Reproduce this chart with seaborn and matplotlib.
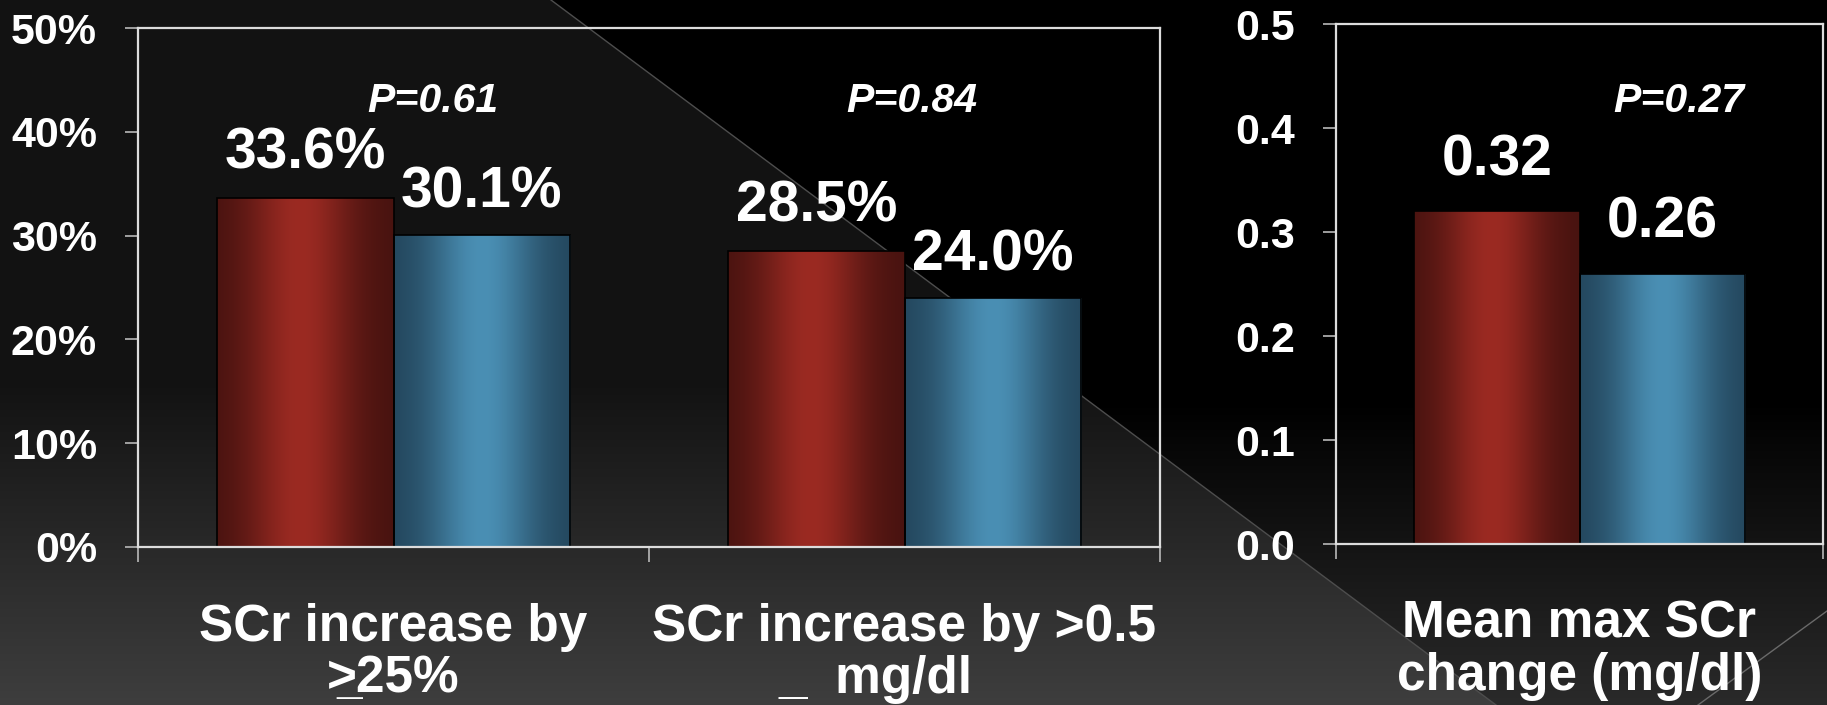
import numpy as np
import pandas as pd
import matplotlib
matplotlib.use("Agg")
import matplotlib.pyplot as plt
import seaborn as sns
from matplotlib.colors import to_rgb
from matplotlib.lines import Line2D

# ---- data -------------------------------------------------------------
categories = ["SCr increase by\n>25%", "SCr increase by >0.5\n_  mg/dl    "]
groups = ["Group A", "Group B"]
pct_group_a = [33.6, 28.5]
pct_group_b = [30.1, 24.0]
p_values_left = ["P=0.61", "P=0.84"]

mean_category = ["Mean max SCr\nchange (mg/dl)"]
mean_group_a = [0.32]
mean_group_b = [0.26]
p_values_right = ["P=0.27"]

left_ticks = [0, 10, 20, 30, 40, 50]
left_ticklabels = ["0%", "10%", "20%", "30%", "40%", "50%"]
right_ticks = [0.0, 0.1, 0.2, 0.3, 0.4, 0.5]
right_ticklabels = ["0.0", "0.1", "0.2", "0.3", "0.4", "0.5"]

# ---- style ------------------------------------------------------------
plt.rcParams["font.family"] = ["Liberation Sans", "DejaVu Sans"]
RED_DARK, RED_BRIGHT = "#45120f", "#9b2a22"
BLUE_DARK, BLUE_BRIGHT = "#22445a", "#4a8fb4"
SPINE = "#dcdcdc"
TICK = "#b8b8b8"

W, H = 1827, 705
fig = plt.figure(figsize=(W / 100, H / 100), dpi=100)

# ---- slide background: two shaded panels split by a diagonal ---------
bg = fig.add_axes([0, 0, 1, 1], zorder=-10)
yy, xx = np.mgrid[0:H, 0:W].astype(float)
x0, slope = 551.0, 705.0 / (1496.0 - 551.0)
lower_left = yy > slope * (xx - x0)
grey_panel = np.where(yy < 380, 18, 18 + 44 * (yy - 380) / 325)
dark_panel = np.clip((yy - 400) / 305, 0, 1) * 42
shade_val = np.where(lower_left, grey_panel, dark_panel) / 255.0
bg.imshow(np.dstack([shade_val] * 3), extent=[0, W, H, 0], aspect="auto",
          interpolation="bilinear")
bg.add_line(Line2D([x0, 1496], [0, H], color="#4d4d4d", lw=1.0))
bg.add_line(Line2D([W, 1698], [611, H], color="#6a6a6a", lw=1.0))
bg.set_xlim(0, W)
bg.set_ylim(H, 0)
bg.axis("off")

# ---- chart axes -------------------------------------------------------
ax1 = fig.add_axes([138 / W, 1 - 547 / H, 1022 / W, 519 / H])
ax2 = fig.add_axes([1336 / W, 1 - 544 / H, 487 / W, 520 / H])

df_left = pd.DataFrame({
    "category": categories * 2,
    "group": [groups[0]] * len(categories) + [groups[1]] * len(categories),
    "value": pct_group_a + pct_group_b,
})
df_right = pd.DataFrame({
    "category": mean_category * 2,
    "group": [groups[0]] * len(mean_category) + [groups[1]] * len(mean_category),
    "value": mean_group_a + mean_group_b,
})

sns.barplot(data=df_left, x="category", y="value", hue="group",
            order=categories, hue_order=groups,
            palette=[RED_BRIGHT, BLUE_BRIGHT], width=0.69,
            edgecolor="black", linewidth=1.2, errorbar=None,
            legend=False, ax=ax1)
sns.barplot(data=df_right, x="category", y="value", hue="group",
            order=mean_category, hue_order=groups,
            palette=[RED_BRIGHT, BLUE_BRIGHT], width=0.68,
            edgecolor="black", linewidth=1.2, errorbar=None,
            legend=False, ax=ax2)


def cylinder_shade(ax, container, dark, bright, peak):
    """Paint each bar with a horizontal light-dark gradient (cylinder look)."""
    d, b = np.array(to_rgb(dark)), np.array(to_rgb(bright))
    t = np.linspace(0, 1, 256)
    f = np.exp(-((t - peak) / 0.3) ** 2)
    img = (d + (b - d) * f[:, None])[None, :, :]
    for bar in container:
        x, y = bar.get_x(), bar.get_y()
        w, h = bar.get_width(), bar.get_height()
        im = ax.imshow(img, extent=[x, x + w, y, y + h], aspect="auto",
                       interpolation="bilinear", zorder=bar.get_zorder() + 0.1)
        im.set_clip_path(bar)
        bar.set_facecolor("none")
        bar.set_zorder(bar.get_zorder() + 0.2)


for ax in (ax1, ax2):
    cylinder_shade(ax, ax.containers[0], RED_DARK, RED_BRIGHT, 0.47)
    cylinder_shade(ax, ax.containers[1], BLUE_DARK, BLUE_BRIGHT, 0.50)

# value labels from the bar heights
VAL_FS = 41
ax1.bar_label(ax1.containers[0], labels=[f"{v:.1f}%" for v in pct_group_a],
              padding=13, fontsize=VAL_FS, fontweight="bold", color="white")
ax1.bar_label(ax1.containers[1], labels=[f"{v:.1f}%" for v in pct_group_b],
              padding=11, fontsize=VAL_FS, fontweight="bold", color="white")
ax2.bar_label(ax2.containers[0], labels=[f"{v:.2f}" for v in mean_group_a],
              padding=17, fontsize=VAL_FS, fontweight="bold", color="white")
ax2.bar_label(ax2.containers[1], labels=[f"{v:.2f}" for v in mean_group_b],
              padding=17, fontsize=VAL_FS, fontweight="bold", color="white")

# axis formatting
ax1.set_ylim(0, 50)
ax1.set_xlim(-0.5, len(categories) - 0.5)
ax2.set_ylim(0, 0.5)
ax2.set_xlim(-0.5, len(mean_category) - 0.5)

for ax, ticks, labels, cats in ((ax1, left_ticks, left_ticklabels, categories),
                                (ax2, right_ticks, right_ticklabels, mean_category)):
    ax.set_facecolor("none")
    ax.set_xlabel("")
    ax.set_ylabel("")
    ax.set_yticks(ticks, labels, fontsize=31, fontweight="bold", color="white")
    ax.set_xticks(range(len(cats)), cats, fontsize=37, fontweight="bold",
                  color="white")
    for lbl in ax.get_xticklabels():
        lbl.set_linespacing(1.08)
    ax.set_xticks(np.arange(len(cats) + 1) - 0.5, minor=True)
    ax.tick_params(axis="y", direction="out", length=9.5, width=1.2,
                   color=TICK, pad=20)
    ax.tick_params(axis="x", which="major", length=0, pad=40)
    ax.tick_params(axis="x", which="minor", direction="out", length=11,
                   width=1.2, color=TICK)
    ax.tick_params(axis="y", which="minor", length=0)
    for s in ax.spines.values():
        s.set_visible(True)
        s.set_color(SPINE)
        s.set_linewidth(1.6)
        s.set_zorder(5)
    ax.grid(False)

# underline mark just below the ">" of the first category label
ax1.annotate("_", xy=(-0.112, 0), xycoords=ax1.get_xaxis_transform(),
             xytext=(0, -105), textcoords="offset points", ha="left",
             va="baseline", fontsize=33, fontweight="bold", color="white")

# significance annotations
for xpos, txt in zip([0.077, 1.015], p_values_left):
    ax1.text(xpos, 41.9, txt, ha="center", va="baseline", fontsize=29.5,
             style="italic", fontweight="bold", color="white")
for xpos, txt in zip([0.204], p_values_right):
    ax2.text(xpos, 0.4154, txt, ha="center", va="baseline", fontsize=29.5,
             style="italic", fontweight="bold", color="white")

fig.savefig("out.png", dpi=100, facecolor="black")
